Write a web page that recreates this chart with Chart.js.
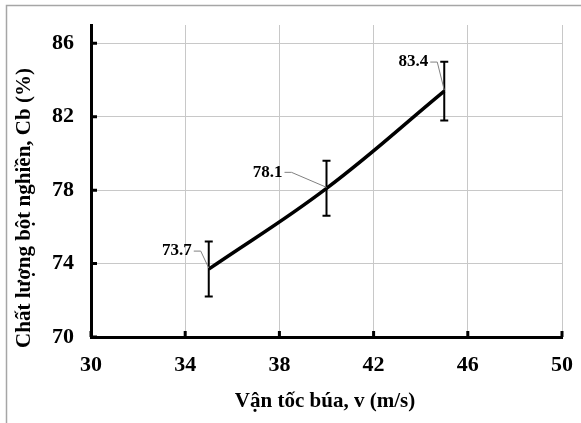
<!DOCTYPE html>
<html>
<head>
<meta charset="utf-8">
<script src="https://cdn.jsdelivr.net/npm/chart.js@4/dist/chart.umd.min.js"></script>
<style>
  body { margin: 0; background: #fff; }
  canvas { display: block; }
</style>
</head>
<body>
<canvas id="myChart" width="581" height="423"></canvas>
<script>
// Du lieu doc tu hinh
const vanToc = [35, 40, 45];          // v (m/s)
const chatLuong = [73.7, 78.1, 83.4]; // Cb (%)
const saiSo = [1.5, 1.5, 1.6];        // +/- error
const xTicks = [30, 34, 38, 42, 46, 50];
const yTicks = [70, 74, 78, 82, 86];

// vi tri nhan so (offset so voi diem)
const labelOffsets = [[-17, -18], [-44, -16], [-16, -29]];

const serif = "'Liberation Serif', 'Times New Roman', serif";

const ctx = document.getElementById('myChart').getContext('2d');

// khung ngoai mau xam
const frame = {
    id: 'frame',
    beforeDraw(chart) {
        const c = chart.ctx;
        c.save();
        c.strokeStyle = '#a6a6a6';
        c.lineWidth = 1.5;
        c.beginPath();
        c.moveTo(6.5, 423);
        c.lineTo(6.5, 5.5);
        c.lineTo(581, 5.5);
        c.stroke();
        c.restore();
    }
};

// vach chia huong vao trong
const innerTicks = {
    id: 'innerTicks',
    afterDraw(chart) {
        const c = chart.ctx, xs = chart.scales.x, ys = chart.scales.y;
        const a = chart.chartArea;
        c.save();
        c.strokeStyle = '#000';
        c.lineWidth = 3;
        c.beginPath();
        yTicks.forEach(v => {
            const py = ys.getPixelForValue(v);
            c.moveTo(a.left, py);
            c.lineTo(a.left + 6, py);
        });
        xTicks.forEach(v => {
            const px = xs.getPixelForValue(v);
            c.moveTo(px, a.bottom);
            c.lineTo(px, a.bottom - 6);
        });
        c.stroke();
        c.restore();
    }
};

// thanh sai so + nhan
const errorBars = {
    id: 'errorBars',
    afterDatasetsDraw(chart) {
        const c = chart.ctx, xs = chart.scales.x, ys = chart.scales.y;
        c.save();
        for (let i = 0; i < vanToc.length; i++) {
            const px = xs.getPixelForValue(vanToc[i]);
            const py = ys.getPixelForValue(chatLuong[i]);
            const top = ys.getPixelForValue(chatLuong[i] + saiSo[i]);
            const bot = ys.getPixelForValue(chatLuong[i] - saiSo[i]);
            c.strokeStyle = '#000';
            c.lineWidth = 2;
            c.beginPath();
            c.moveTo(px, top); c.lineTo(px, bot);
            c.moveTo(px - 4, top); c.lineTo(px + 4, top);
            c.moveTo(px - 4, bot); c.lineTo(px + 4, bot);
            c.stroke();

            // duong dan nhan
            const tx = px + labelOffsets[i][0];
            const ty = py + labelOffsets[i][1];
            c.strokeStyle = '#808080';
            c.lineWidth = 1;
            c.beginPath();
            c.moveTo(tx + 2, ty);
            c.lineTo(tx + 9, ty);
            c.lineTo(px, py - 1);
            c.stroke();

            c.fillStyle = '#000';
            c.font = 'bold 17px ' + serif;
            c.textAlign = 'right';
            c.textBaseline = 'middle';
            c.fillText(chatLuong[i].toFixed(1), tx, ty);
        }
        c.restore();
    }
};

// tieu de truc
const axisTitles = {
    id: 'axisTitles',
    afterDraw(chart) {
        const c = chart.ctx;
        c.save();
        c.fillStyle = '#000';
        c.font = 'bold 21px ' + serif;
        c.textAlign = 'center';
        c.textBaseline = 'middle';
        c.fillText('Vận tốc búa, v (m/s)', 325, 402);
        c.translate(25, 208);
        c.rotate(-Math.PI / 2);
        c.fillText('Chất lượng bột nghiền, Cb (%)', 0, 0);
        c.restore();
    }
};

const data = {
    datasets: [{
        data: vanToc.map((v, i) => ({ x: v, y: chatLuong[i] })),
        showLine: true,
        borderColor: '#000',
        borderWidth: 3.5,
        tension: 0.4,
        pointRadius: 0,
        fill: false
    }]
};

const config = {
    type: 'scatter',
    data: data,
    options: {
        responsive: false,
        animation: false,
        layout: { padding: { top: 25, right: 19, left: 0, bottom: 0 } },
        plugins: { legend: { display: false }, tooltip: { enabled: false } },
        scales: {
            x: {
                type: 'linear',
                min: 30, max: 50,
                afterBuildTicks: s => { s.ticks = xTicks.map(v => ({ value: v })); },
                afterFit: s => { s.height = 86; s.paddingLeft = 0; s.paddingRight = 0; },
                grid: { color: '#c8c8c8', lineWidth: 1, tickLength: 0 },
                border: { color: '#000', width: 3 },
                ticks: {
                    color: '#000',
                    padding: 15,
                    font: { family: serif, size: 22, weight: 'bold' }
                }
            },
            y: {
                type: 'linear',
                min: 70, max: 87,
                afterBuildTicks: s => { s.ticks = yTicks.map(v => ({ value: v })); },
                afterFit: s => { s.width = 91; s.paddingTop = 0; s.paddingBottom = 0; },
                grid: { color: '#c8c8c8', lineWidth: 1, tickLength: 0 },
                border: { color: '#000', width: 3 },
                ticks: {
                    color: '#000',
                    padding: 17,
                    font: { family: serif, size: 22, weight: 'bold' }
                }
            }
        }
    },
    plugins: [frame, innerTicks, errorBars, axisTitles]
};

const myChart = new Chart(ctx, config);
</script>
</body>
</html>
